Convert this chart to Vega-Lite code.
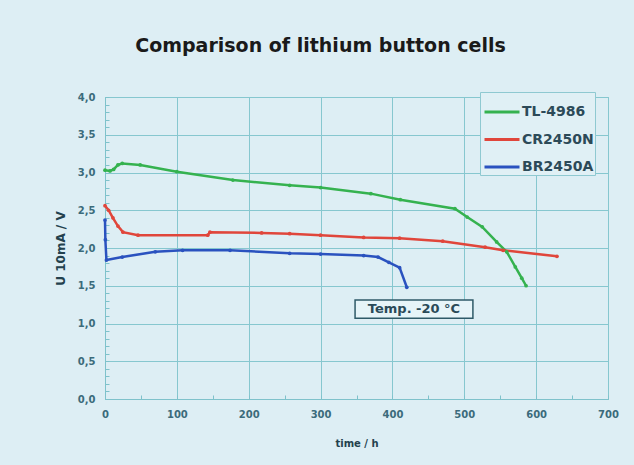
{
  "$schema": "https://vega.github.io/schema/vega-lite/v6.json",
  "width": 503,
  "height": 302,
  "autosize": {"type": "none"},
  "padding": {"left": 105, "top": 97, "right": 26, "bottom": 66},
  "background": "#ddeef4",
  "title": {
    "text": "Comparison of lithium button cells",
    "font": "DejaVu Sans",
    "fontSize": 19,
    "fontWeight": "bold",
    "color": "#1a1a1a",
    "anchor": "middle",
    "frame": "group",
    "dx": -36,
    "offset": 36
  },
  "config": {
    "view": {"stroke": "#7fc2cb", "fill": "#ddeef4"},
    "axis": {
      "labelFont": "DejaVu Sans",
      "labelFontWeight": "bold",
      "labelFontSize": 10,
      "labelColor": "#3b6b7b",
      "labelOverlap": false,
      "titleFont": "DejaVu Sans",
      "titleFontWeight": "bold",
      "titleFontSize": 10,
      "titleColor": "#23414d",
      "domainColor": "#7fc2cb",
      "tickColor": "#7fc2cb",
      "gridColor": "#86c7cf",
      "tickSize": -4,
      "tickCount": 200
    }
  },
  "datasets": {
    "curves": [
      {"series": "TL-4986", "t": 0, "u": 3.03},
      {"series": "TL-4986", "t": 7, "u": 3.02},
      {"series": "TL-4986", "t": 12, "u": 3.04},
      {"series": "TL-4986", "t": 18, "u": 3.1},
      {"series": "TL-4986", "t": 24, "u": 3.12},
      {"series": "TL-4986", "t": 49, "u": 3.1},
      {"series": "TL-4986", "t": 100, "u": 3.01},
      {"series": "TL-4986", "t": 178, "u": 2.9},
      {"series": "TL-4986", "t": 257, "u": 2.83},
      {"series": "TL-4986", "t": 300, "u": 2.8},
      {"series": "TL-4986", "t": 370, "u": 2.72},
      {"series": "TL-4986", "t": 411, "u": 2.64},
      {"series": "TL-4986", "t": 487, "u": 2.52},
      {"series": "TL-4986", "t": 504, "u": 2.41},
      {"series": "TL-4986", "t": 525, "u": 2.28},
      {"series": "TL-4986", "t": 545, "u": 2.08},
      {"series": "TL-4986", "t": 559, "u": 1.95},
      {"series": "TL-4986", "t": 571, "u": 1.75},
      {"series": "TL-4986", "t": 580, "u": 1.6},
      {"series": "TL-4986", "t": 586, "u": 1.5},
      {"series": "CR2450N", "t": 0, "u": 2.56},
      {"series": "CR2450N", "t": 5, "u": 2.5},
      {"series": "CR2450N", "t": 11, "u": 2.4},
      {"series": "CR2450N", "t": 18, "u": 2.29},
      {"series": "CR2450N", "t": 25, "u": 2.21},
      {"series": "CR2450N", "t": 46, "u": 2.17},
      {"series": "CR2450N", "t": 143, "u": 2.17},
      {"series": "CR2450N", "t": 146, "u": 2.21},
      {"series": "CR2450N", "t": 218, "u": 2.2},
      {"series": "CR2450N", "t": 257, "u": 2.19},
      {"series": "CR2450N", "t": 300, "u": 2.17},
      {"series": "CR2450N", "t": 360, "u": 2.14},
      {"series": "CR2450N", "t": 410, "u": 2.13},
      {"series": "CR2450N", "t": 470, "u": 2.09},
      {"series": "CR2450N", "t": 529, "u": 2.01},
      {"series": "CR2450N", "t": 554, "u": 1.97},
      {"series": "CR2450N", "t": 629, "u": 1.89},
      {"series": "BR2450A", "t": 0, "u": 2.37},
      {"series": "BR2450A", "t": 0.5, "u": 2.11},
      {"series": "BR2450A", "t": 2, "u": 1.84},
      {"series": "BR2450A", "t": 24, "u": 1.88},
      {"series": "BR2450A", "t": 70, "u": 1.95},
      {"series": "BR2450A", "t": 108, "u": 1.97},
      {"series": "BR2450A", "t": 174, "u": 1.97},
      {"series": "BR2450A", "t": 257, "u": 1.93},
      {"series": "BR2450A", "t": 300, "u": 1.92},
      {"series": "BR2450A", "t": 360, "u": 1.9},
      {"series": "BR2450A", "t": 380, "u": 1.88},
      {"series": "BR2450A", "t": 395, "u": 1.81},
      {"series": "BR2450A", "t": 410, "u": 1.74},
      {"series": "BR2450A", "t": 420, "u": 1.48}
    ],
    "note": [
      {"x0": 348, "x1": 512, "y0": 1.31, "y1": 1.07, "xc": 430, "yc": 1.19, "label": "Temp. -20 °C"}
    ]
  },
  "layer": [
    {
      "data": {"name": "curves"},
      "mark": {"type": "line", "strokeWidth": 2.5, "point": {"filled": true, "size": 14}},
      "encoding": {
        "x": {
          "field": "t",
          "type": "quantitative",
          "title": "time / h",
          "scale": {"domain": [0, 700], "nice": false, "zero": false},
          "axis": {
            "title": "time / h",
            "values": [0, 50, 100, 150, 200, 250, 300, 350, 400, 450, 500, 550, 600, 650, 700],
            "tickCount": 200,
            "labelExpr": "datum.value % 100 == 0 ? datum.label : ''",
            "gridOpacity": {"condition": {"test": "datum.value % 100 == 0", "value": 1}, "value": 0},
            "labelPadding": 14,
            "labelFlush": false,
            "titlePadding": 19
          }
        },
        "y": {
          "field": "u",
          "type": "quantitative",
          "title": "U 10mA / V",
          "scale": {"domain": [0, 4], "nice": false, "zero": false},
          "axis": {
            "title": "U 10mA / V",
            "values": [0, 0.1, 0.2, 0.3, 0.4, 0.5, 0.6, 0.7, 0.8, 0.9, 1, 1.1, 1.2, 1.3, 1.4, 1.5, 1.6, 1.7, 1.8, 1.9, 2, 2.1, 2.2, 2.3, 2.4, 2.5, 2.6, 2.7, 2.8, 2.9, 3, 3.1, 3.2, 3.3, 3.4, 3.5, 3.6, 3.7, 3.8, 3.9, 4],
            "tickCount": 200,
            "labelExpr": "round(datum.value * 10) % 5 == 0 ? replace(format(datum.value, '.1f'), '.', ',') : ''",
            "gridOpacity": {"condition": {"test": "round(datum.value * 10) % 5 == 0", "value": 1}, "value": 0},
            "labelPadding": 14,
            "labelFlush": false,
            "titleFontSize": 12,
            "titlePadding": 10
          }
        },
        "color": {
          "field": "series",
          "type": "nominal",
          "scale": {"domain": ["TL-4986", "CR2450N", "BR2450A"], "range": ["#35b24f", "#e0463b", "#2a52bf"]},
          "legend": {
            "title": null,
            "orient": "none",
            "legendX": 375,
            "legendY": -5,
            "symbolType": "stroke",
            "symbolSize": 1225,
            "symbolStrokeWidth": 3,
            "symbolOffset": 2,
            "labelFont": "DejaVu Sans",
            "labelFontWeight": "bold",
            "labelFontSize": 14,
            "labelColor": "#2c4a58",
            "labelOffset": 1,
            "rowPadding": 1.5,
            "padding": 1,
            "strokeColor": "#8fc9d1",
            "fillColor": "#e0f0f5"
          }
        }
      }
    },
    {
      "data": {"name": "note"},
      "mark": {"type": "rect", "fill": "#e6f4f8", "stroke": "#2f5a68", "strokeWidth": 1.5},
      "encoding": {
        "x": {"field": "x0", "type": "quantitative", "title": "time / h"},
        "x2": {"field": "x1"},
        "y": {"field": "y0", "type": "quantitative", "title": "U 10mA / V"},
        "y2": {"field": "y1"}
      }
    },
    {
      "data": {"name": "note"},
      "mark": {"type": "text", "font": "DejaVu Sans", "fontWeight": "bold", "fontSize": 13, "color": "#2a4a58", "align": "center", "baseline": "middle"},
      "encoding": {
        "x": {"field": "xc", "type": "quantitative", "title": "time / h"},
        "y": {"field": "yc", "type": "quantitative", "title": "U 10mA / V"},
        "text": {"field": "label"}
      }
    }
  ]
}
